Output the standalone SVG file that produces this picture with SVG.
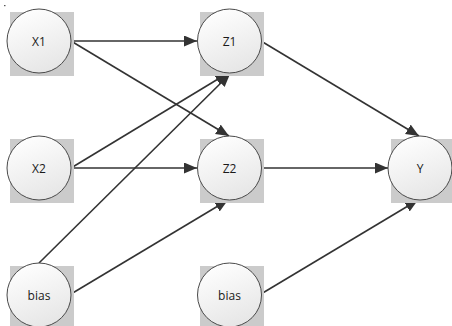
<svg xmlns="http://www.w3.org/2000/svg" width="452" height="326" viewBox="0 0 452 326">
<style>
.sq{fill:#cbcbcb}
.c{fill:url(#g);stroke:#4a4a4a;stroke-width:1}
.t{font-family:"Open Sans","Liberation Sans",sans-serif;font-size:12px;fill:#1a1a1a;text-anchor:middle;dominant-baseline:central}
.e{stroke:#333;stroke-width:1.6;fill:none;marker-end:url(#a)}
</style>
<defs>
<linearGradient id="g" x1="0.2" y1="0" x2="0.6" y2="1">
<stop offset="0" stop-color="#ffffff"/>
<stop offset="1" stop-color="#e6e6e6"/>
</linearGradient>
<marker id="a" markerUnits="userSpaceOnUse" markerWidth="14" markerHeight="12" refX="13" refY="5.5" orient="auto">
<path d="M0,0 L13,5.5 L0,11 z" fill="#333"/>
</marker>
</defs>
<rect x="4" y="5" width="1.5" height="1.2" fill="#555"/>
<g id="edges">
<line class="e" x1="71" y1="41" x2="197" y2="41"/>
<line class="e" x1="71" y1="41" x2="229" y2="136"/>
<line class="e" x1="71" y1="168" x2="228" y2="73"/>
<line class="e" x1="71" y1="168" x2="197" y2="168"/>
<line class="e" x1="39" y1="263" x2="230" y2="74"/>
<line class="e" x1="71" y1="294" x2="228" y2="200"/>
<line class="e" x1="261" y1="41" x2="419" y2="136"/>
<line class="e" x1="261" y1="168" x2="388" y2="168"/>
<line class="e" x1="261" y1="294" x2="418" y2="200"/>
</g>
<g id="X1"><rect class="sq" x="10" y="12" width="64" height="64"/><circle class="c" cx="39" cy="41" r="32"/><text class="t" x="39" y="41">X1</text></g>
<g id="X2"><rect class="sq" x="10" y="139" width="64" height="64"/><circle class="c" cx="39" cy="168" r="32"/><text class="t" x="39" y="168">X2</text></g>
<g id="bias1"><rect class="sq" x="10" y="266" width="64" height="64"/><circle class="c" cx="39" cy="295" r="32"/><text class="t" x="39" y="295">bias</text></g>
<g id="Z1"><rect class="sq" x="200" y="12" width="64" height="64"/><circle class="c" cx="229.5" cy="41" r="32"/><text class="t" x="229.5" y="41">Z1</text></g>
<g id="Z2"><rect class="sq" x="200" y="139" width="64" height="64"/><circle class="c" cx="229.5" cy="168" r="32"/><text class="t" x="229.5" y="168">Z2</text></g>
<g id="bias2"><rect class="sq" x="200" y="266" width="64" height="64"/><circle class="c" cx="229.5" cy="295" r="32"/><text class="t" x="229.5" y="295">bias</text></g>
<g id="Y"><rect class="sq" x="391" y="139" width="64" height="64"/><circle class="c" cx="420" cy="168" r="32"/><text class="t" x="420" y="168">Y</text></g>
</svg>
